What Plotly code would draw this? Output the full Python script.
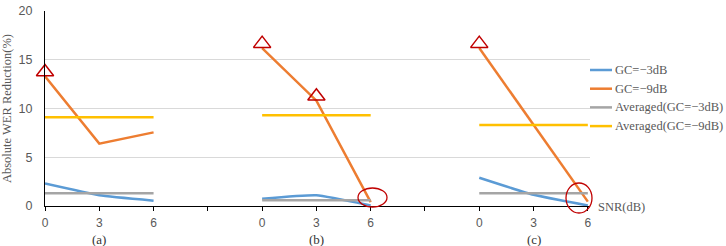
import plotly.graph_objects as go

snr = ["0", "3", "6"]
groups = ["(a)", "(b)", "(c)"]
names = ["GC=−3dB", "GC=−9dB", "Averaged(GC=−3dB)", "Averaged(GC=−9dB)"]
gc3 = [[2.3, 1.1, 0.55], [0.75, 1.1, 0.05], [2.9, 1.15, 0.05]]
gc9 = [[13.3, 6.4, 7.55], [16.2, 10.8, 0.4], [16.2, 8.3, 0.45]]
avg3 = [1.3, 0.6, 1.3]
avg9 = [9.1, 9.3, 8.3]
highlight = [(0, 0), (1, 0), (1, 1), (2, 0)]  # (group, snr index) for triangles

W, H, ML, MR, MT, MB = 726, 246, 45, 136, 11, 40
PW, PH = W - ML - MR, H - MT - MB

def pos(g, i):
    return 4 * g + i

def px(xp):
    return (xp - ML) / PW

def py(yp):
    return (H - MB - yp) / PH

def series(vals):
    xs, ys = [], []
    for g, row in enumerate(vals):
        for i, v in enumerate(row):
            xs.append(pos(g, i)); ys.append(v)
        xs.append(None); ys.append(None)
    return xs, ys

def flat(vals):
    xs, ys = [], []
    for g, v in enumerate(vals):
        xs += [pos(g, 0), pos(g, 2), None]; ys += [v, v, None]
    return xs, ys

BLUE, ORANGE, GRAY, GOLD, RED = "#5B9BD5", "#ED7D31", "#A5A5A5", "#FFC000", "#C00000"
colors = [BLUE, ORANGE, GRAY, GOLD]
fig = go.Figure()
x, y = series(gc3)
fig.add_trace(go.Scatter(x=x, y=y, mode="lines", name=names[0],
                         line=dict(color=BLUE, width=2.5, shape="spline", smoothing=0.4)))
x, y = series(gc9)
fig.add_trace(go.Scatter(x=x, y=y, mode="lines", name=names[1],
                         line=dict(color=ORANGE, width=2.5)))
x, y = flat(avg3)
fig.add_trace(go.Scatter(x=x, y=y, mode="lines", name=names[2],
                         line=dict(color=GRAY, width=2.5)))
x, y = flat(avg9)
fig.add_trace(go.Scatter(x=x, y=y, mode="lines", name=names[3],
                         line=dict(color=GOLD, width=2.5)))
fig.add_trace(go.Scatter(x=[pos(g, i) for g, i in highlight],
                         y=[gc9[g][i] + 0.45 for g, i in highlight],
                         mode="markers", showlegend=False, cliponaxis=False,
                         marker=dict(symbol="triangle-up-open", size=15, color=RED,
                                     line=dict(color=RED, width=1.5))))

tickvals = list(range(11))
ticktext = []
for g in range(3):
    ticktext += snr
    if g < 2:
        ticktext.append("")

fig.update_layout(
    width=W, height=H,
    margin=dict(l=ML, r=MR, t=MT, b=MB),
    plot_bgcolor="white", paper_bgcolor="white",
    showlegend=False,
    xaxis=dict(range=[0, 10.04], tickvals=tickvals, ticktext=ticktext, automargin=False,
               showgrid=False, zeroline=False, showline=True, linecolor="black",
               linewidth=1.2, ticks="outside", ticklen=4, tickcolor="black",
               ticklabelstandoff=1,
               tickfont=dict(family="Liberation Sans", size=12, color="#595959")),
    yaxis=dict(range=[0, 20], tickvals=[0, 5, 10, 15, 20], showgrid=True, automargin=False,
               gridcolor="#D9D9D9", zeroline=False, showline=True, linecolor="black",
               linewidth=1.2, ticks="", ticklabelstandoff=9,
               tickfont=dict(family="Liberation Sans", size=12.5, color="#595959"),
               title=dict(text="Absolute WER Reduction(%)", standoff=5,
                          font=dict(family="Liberation Serif", size=12.5, color="#595959"))),
)

# legend (drawn manually to keep the plot area fixed)
for k, (nm, col) in enumerate(zip(names, colors)):
    yy = py(70 + 18.7 * k)
    fig.add_shape(type="line", xref="paper", yref="paper", x0=px(590), x1=px(612),
                  y0=yy, y1=yy, line=dict(color=col, width=2.5))
    fig.add_annotation(x=px(613), y=yy, xref="paper", yref="paper", text=nm,
                       showarrow=False, xanchor="left", yanchor="middle",
                       font=dict(family="Liberation Serif", size=12.5, color="#595959"))

for g, lab in enumerate(groups):
    fig.add_annotation(x=pos(g, 1), y=-0.125, xref="x", yref="paper", text=lab,
                       showarrow=False, yanchor="top",
                       font=dict(family="Liberation Serif", size=13, color="#333333"))
fig.add_annotation(x=px(596), y=py(207), xref="paper", yref="paper", text="SNR(dB)",
                   showarrow=False, xanchor="left", yanchor="middle",
                   font=dict(family="Liberation Serif", size=12.5, color="#595959"))

fig.add_shape(type="circle", xref="paper", yref="paper", x0=px(358), x1=px(387),
              y0=py(207), y1=py(188), line=dict(color=RED, width=1.3))
fig.add_shape(type="circle", xref="paper", yref="paper", x0=px(566), x1=px(592),
              y0=py(213), y1=py(183), line=dict(color=RED, width=1.3))

fig.write_html("out.html")
